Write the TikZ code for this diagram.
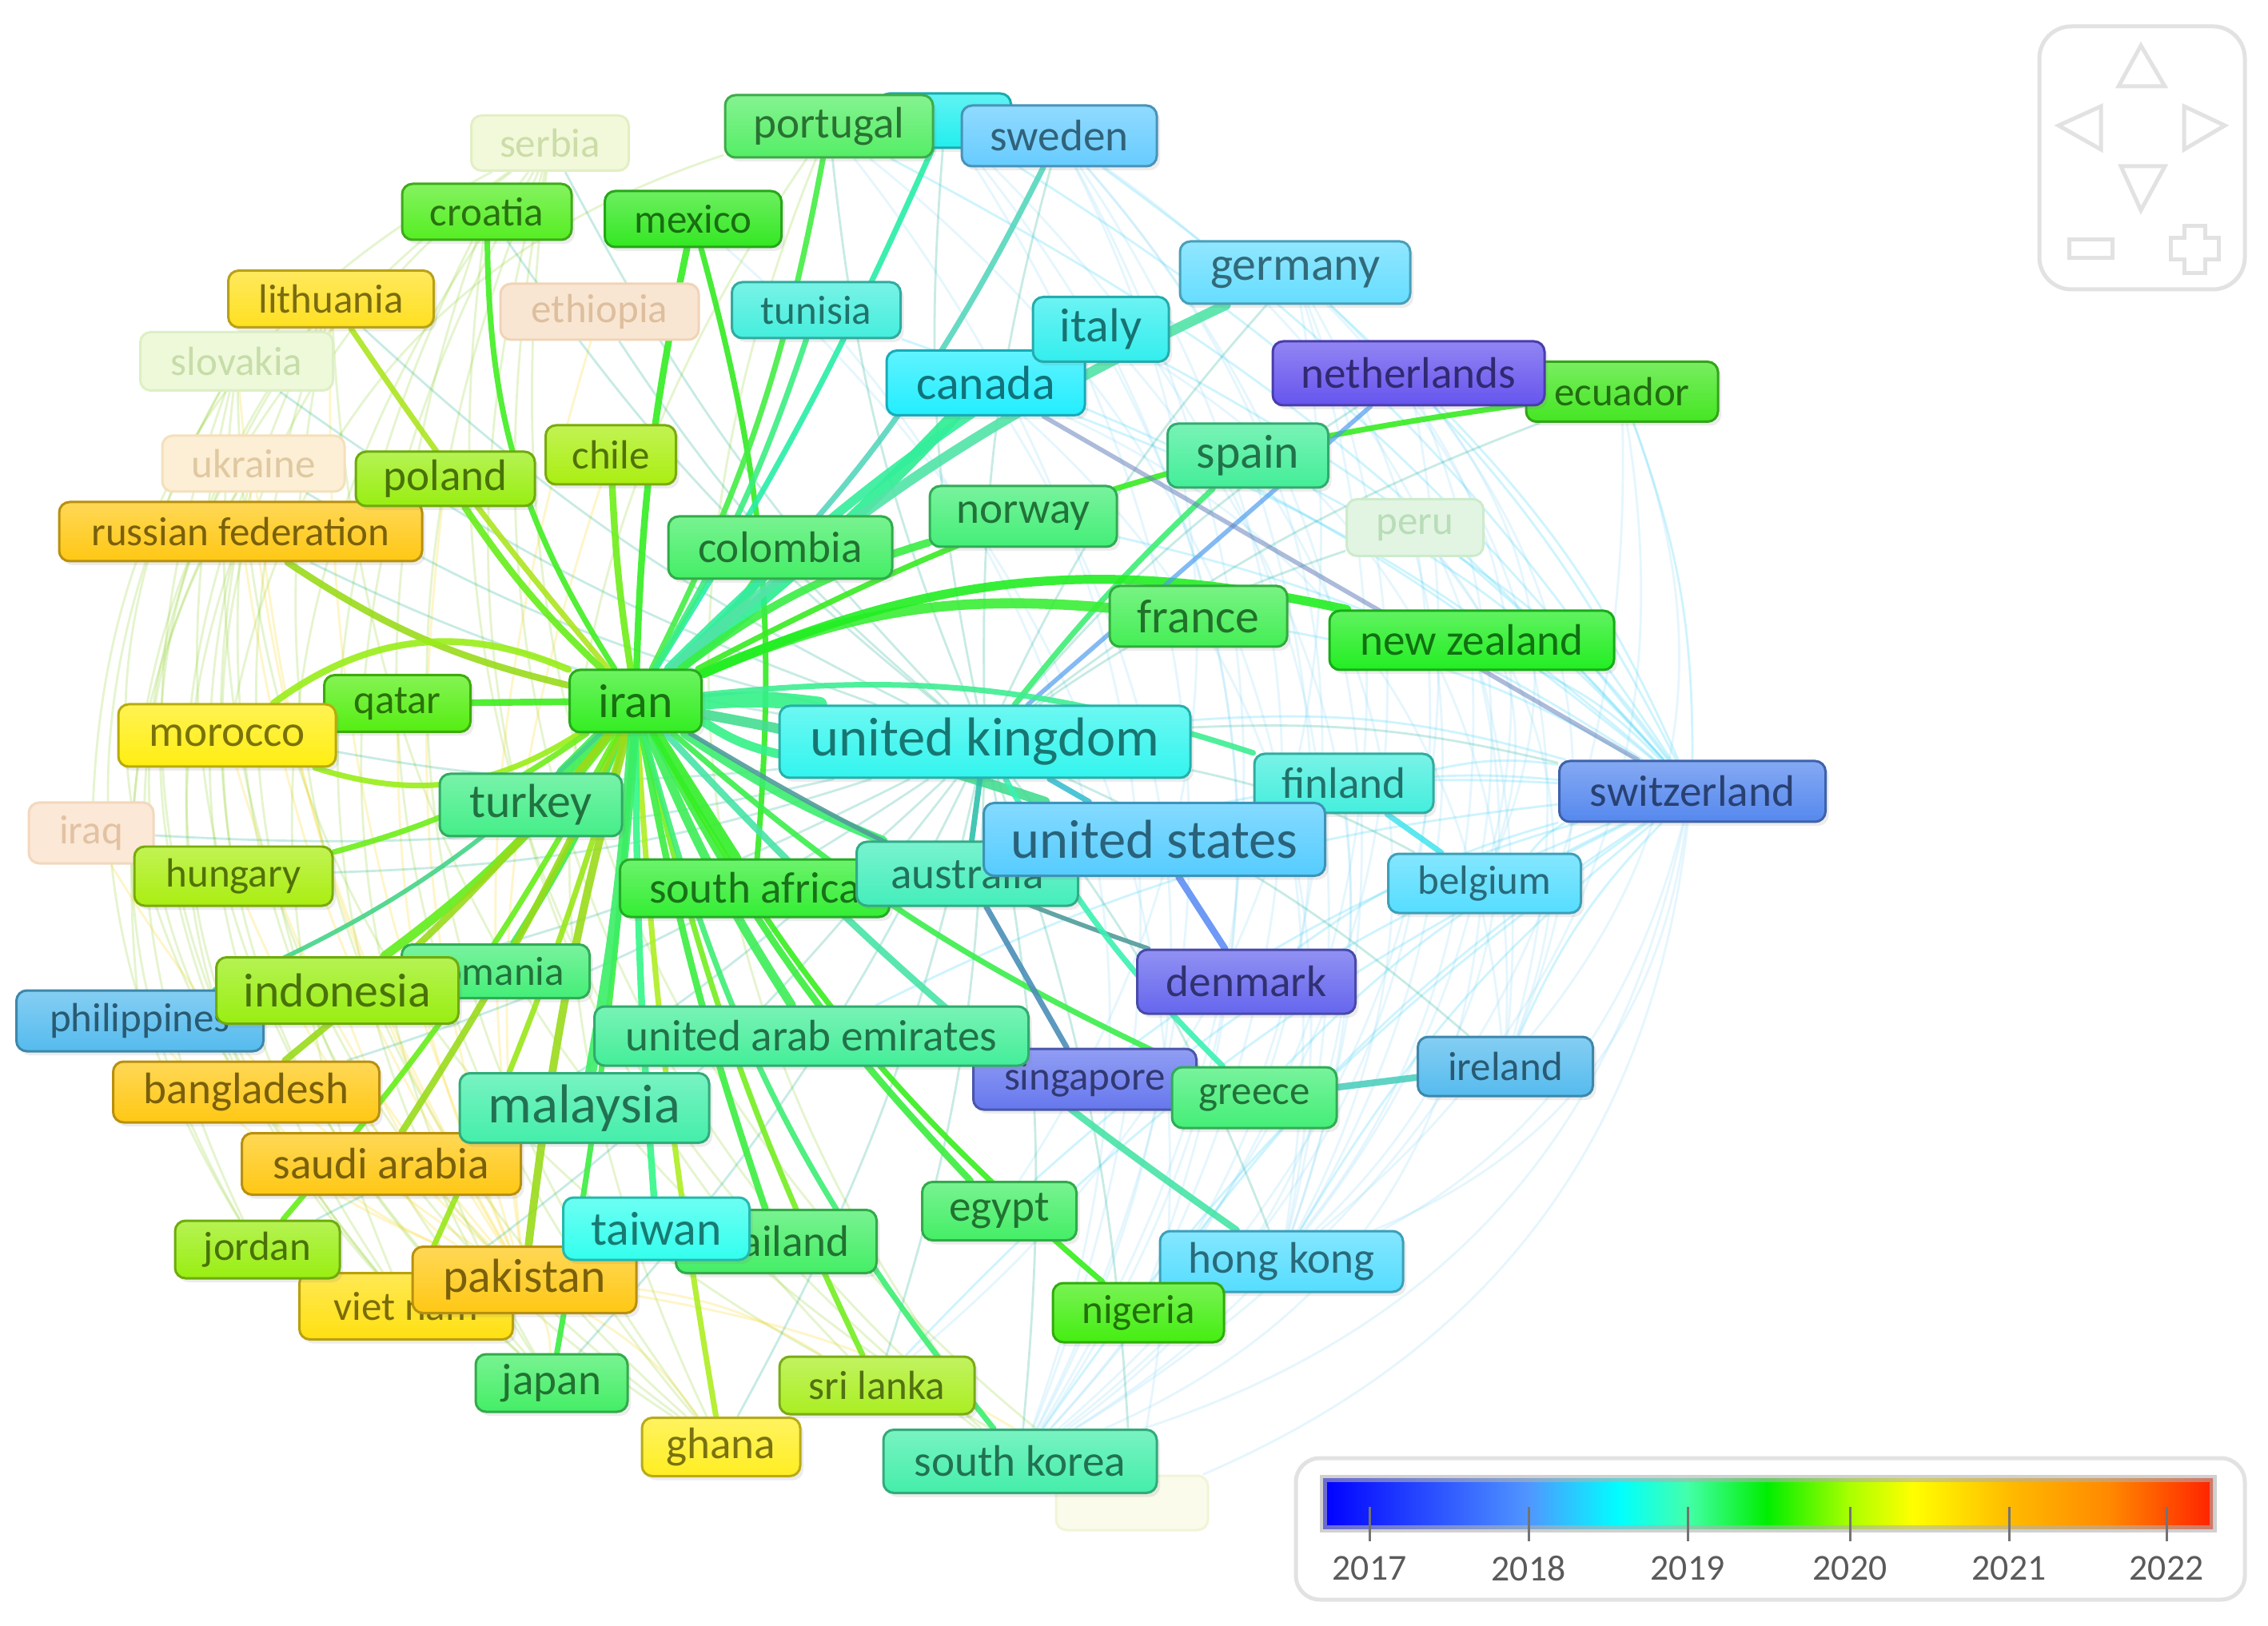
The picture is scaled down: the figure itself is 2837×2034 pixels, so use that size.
\documentclass[tikz,border=0pt]{standalone}
\usepackage{fontspec}
\setmainfont{Carlito}
\usetikzlibrary{shadows}
\pgfdeclarelayer{paper}
\pgfdeclarelayer{web}
\pgfdeclarelayer{links}
\pgfsetlayers{paper,web,links,main}

\definecolor{cIran}{HTML}{33EE22}
\definecolor{cPortugal}{HTML}{55EE66}
\definecolor{cHidden}{HTML}{22EEEE}
\definecolor{cSweden}{HTML}{66CCFF}
\definecolor{cCroatia}{HTML}{55EE22}
\definecolor{cMexico}{HTML}{33E822}
\definecolor{cLithuania}{HTML}{FFE020}
\definecolor{cTunisia}{HTML}{44EEDD}
\definecolor{cGermany}{HTML}{66DDFF}
\definecolor{cItaly}{HTML}{33EEEE}
\definecolor{cCanada}{HTML}{22EEFF}
\definecolor{cNether}{HTML}{6655EE}
\definecolor{cEcuador}{HTML}{44E622}
\definecolor{cPoland}{HTML}{99EE11}
\definecolor{cChile}{HTML}{AAEE11}
\definecolor{cSpain}{HTML}{44EE99}
\definecolor{cRussia}{HTML}{FFC814}
\definecolor{cNorway}{HTML}{44EE77}
\definecolor{cColombia}{HTML}{44EE66}
\definecolor{cFrance}{HTML}{44EE55}
\definecolor{cNZ}{HTML}{22EE22}
\definecolor{cQatar}{HTML}{55EE11}
\definecolor{cMorocco}{HTML}{FFEE11}
\definecolor{cUK}{HTML}{33F5EE}
\definecolor{cFinland}{HTML}{44EEDD}
\definecolor{cSwiss}{HTML}{5588EE}
\definecolor{cTurkey}{HTML}{44EE88}
\definecolor{cHungary}{HTML}{AAEE11}
\definecolor{cUS}{HTML}{55CCFF}
\definecolor{cSAfrica}{HTML}{33EE33}
\definecolor{cAustralia}{HTML}{44EEBB}
\definecolor{cBelgium}{HTML}{55DDFF}
\definecolor{cRomania}{HTML}{44EE77}
\definecolor{cIndonesia}{HTML}{99EE11}
\definecolor{cPhil}{HTML}{55BBEE}
\definecolor{cDenmark}{HTML}{6666EE}
\definecolor{cUAE}{HTML}{44EE99}
\definecolor{cSingapore}{HTML}{6677EE}
\definecolor{cGreece}{HTML}{44EE77}
\definecolor{cIreland}{HTML}{55BBEE}
\definecolor{cBangla}{HTML}{FFC814}
\definecolor{cMalaysia}{HTML}{44EEAA}
\definecolor{cSaudi}{HTML}{FFC814}
\definecolor{cTaiwan}{HTML}{33FFEE}
\definecolor{cThai}{HTML}{44EE66}
\definecolor{cEgypt}{HTML}{44EE66}
\definecolor{cHK}{HTML}{55DDFF}
\definecolor{cJordan}{HTML}{99EE11}
\definecolor{cPakistan}{HTML}{FFC814}
\definecolor{cViet}{HTML}{FFE011}
\definecolor{cNigeria}{HTML}{44EE11}
\definecolor{cJapan}{HTML}{44EE66}
\definecolor{cSriLanka}{HTML}{AAEE22}
\definecolor{cGhana}{HTML}{FFEE22}
\definecolor{cSKorea}{HTML}{44EEAA}
% faint nodes
\definecolor{fSerbiaF}{HTML}{F2F9DA}\definecolor{fSerbiaD}{HTML}{E2EFC4}\definecolor{fSerbiaT}{HTML}{CCDDA8}
\definecolor{fEthF}{HTML}{F9E6D2}\definecolor{fEthD}{HTML}{F0D4B8}\definecolor{fEthT}{HTML}{DDBF9E}
\definecolor{fSlovF}{HTML}{EEF9DA}\definecolor{fSlovD}{HTML}{DDEFC4}\definecolor{fSlovT}{HTML}{C6DDA8}
\definecolor{fUkrF}{HTML}{FCEFD6}\definecolor{fUkrD}{HTML}{F4E0BC}\definecolor{fUkrT}{HTML}{E0C8A0}
\definecolor{fIraqF}{HTML}{FBE8D6}\definecolor{fIraqD}{HTML}{F2D8BE}\definecolor{fIraqT}{HTML}{E2C2A2}
\definecolor{fPeruF}{HTML}{E2F5E2}\definecolor{fPeruD}{HTML}{CDEBCD}\definecolor{fPeruT}{HTML}{B8DDB8}
\definecolor{fLowF}{HTML}{FAFBEA}\definecolor{fLowD}{HTML}{F2F4D8}
\definecolor{navgrey}{HTML}{E2E2E2}
\definecolor{legtext}{HTML}{5A5A5A}

\tikzset{
  vnode/.style={rounded corners=1.3mm, draw=#1!72!black, line width=0.3mm,
    top color=#1!72!white, bottom color=#1, text=#1!48!black, inner sep=0pt,
    drop shadow={opacity=0.15, shadow xshift=0.4mm, shadow yshift=-0.5mm}},
  vfaint/.style n args={3}{rounded corners=1.3mm, fill=#1, draw=#2, line width=0.3mm, text=#3, inner sep=0pt},
  fs/.style={font=\fontsize{14.5}{16}\selectfont},
  fm/.style={font=\fontsize{15.7}{17}\selectfont},
  fl/.style={font=\fontsize{17}{19}\selectfont},
  fxl/.style={font=\fontsize{19.5}{21}\selectfont},
  link/.style={line width=#1*0.14mm, opacity=0.9, line cap=round},
  link/.default=5,
  webline/.style={line width=0.28mm, opacity=0.22},
  navline/.style={draw=navgrey, line width=0.5mm},
  legnum/.style={font=\fontsize{13}{15}\selectfont, text=legtext},
}
\newcommand\vn[8]{\node[vnode=#6,#7,minimum width=#4*0.1mm,minimum height=#5*0.1mm] (#1) at (#2,#3) {#8};}
\newcommand\vf[8]{\node[vfaint={#6F}{#6D}{#6T},#7,minimum width=#4*0.1mm,minimum height=#5*0.1mm] (#1) at (#2,#3) {#8};}

\begin{document}
\begin{tikzpicture}[x=0.1mm,y=-0.1mm]
\begin{pgfonlayer}{paper}
\fill[white] (0,0) rectangle (2837,2034);
\end{pgfonlayer}
\useasboundingbox (0,0) rectangle (2837,2034);

% faint nodes
\vf{serbia}{688}{179}{197}{69}{fSerbia}{fs}{serbia}
\vf{ethiopia}{750}{390}{248}{70}{fEth}{fs}{ethiopia}
\vf{slovakia}{296}{452}{241}{73}{fSlov}{fs}{slovakia}
\vf{ukraine}{317}{580}{228}{70}{fUkr}{fs}{ukraine}
\vf{iraq}{114}{1042}{156}{76}{fIraq}{fs}{iraq}
\vf{peru}{1770}{660}{171}{71}{fPeru}{fs}{peru}
\node[vfaint={fLowF}{fLowD}{fLowD},minimum width=19mm,minimum height=6.8mm] (lowfaint) at (1416,1880) {};

% main nodes
\vn{hidden}{1182}{151}{165}{68}{cHidden}{fs}{}
\vn{portugal}{1037}{158}{260}{78}{cPortugal}{fm}{portugal}
\vn{sweden}{1325}{170}{244}{76}{cSweden}{fm}{sweden}
\vn{croatia}{609}{265}{212}{70}{cCroatia}{fs}{croatia}
\vn{mexico}{867}{274}{221}{70}{cMexico}{fs}{mexico}
\vn{lithuania}{414}{374}{257}{71}{cLithuania}{fs}{lithuania}
\vn{tunisia}{1021}{388}{211}{70}{cTunisia}{fs}{tunisia}
\vn{germany}{1620}{341}{288}{78}{cGermany}{fl}{germany}
\vn{canada}{1233}{479}{248}{81}{cCanada}{fl}{canada}
\vn{italy}{1377}{412}{170}{81}{cItaly}{fl}{italy}
\vn{ecuador}{2029}{490}{240}{75}{cEcuador}{fs}{ecuador}
\vn{netherlands}{1762}{467}{340}{80}{cNether}{fm}{netherlands}
\vn{chile}{764}{569}{163}{74}{cChile}{fs}{chile}
\vn{spain}{1561}{570}{201}{80}{cSpain}{fl}{spain}
\vn{russia}{301}{665}{454}{74}{cRussia}{fs}{russian federation}
\vn{poland}{557}{599}{224}{68}{cPoland}{fm}{poland}
\vn{norway}{1280}{646}{234}{76}{cNorway}{fm}{norway}
\vn{colombia}{976}{685}{280}{78}{cColombia}{fm}{colombia}
\vn{france}{1499}{771}{222}{76}{cFrance}{fl}{france}
\vn{nz}{1841}{801}{356}{74}{cNZ}{fm}{new zealand}
\vn{qatar}{497}{880}{183}{71}{cQatar}{fs}{qatar}
\vn{morocco}{284}{920}{272}{78}{cMorocco}{fm}{morocco}
\vn{iran}{795}{877}{165}{78}{cIran}{fl}{iran}
\vn{uk}{1232}{928}{514}{90}{cUK}{fxl}{united kingdom}
\vn{finland}{1681}{980}{224}{74}{cFinland}{fm}{finland}
\vn{swiss}{2117}{990}{333}{76}{cSwiss}{fm}{switzerland}
\vn{turkey}{664}{1007}{228}{78}{cTurkey}{fl}{turkey}
\vn{hungary}{292}{1096}{248}{74}{cHungary}{fs}{hungary}
\vn{sa}{944}{1111}{337}{72}{cSAfrica}{fm}{south africa}
\vn{australia}{1210}{1093}{277}{80}{cAustralia}{fm}{australia}
\vn{us}{1444}{1050}{427}{91}{cUS}{fxl}{united states}
\vn{belgium}{1857}{1105}{241}{74}{cBelgium}{fs}{belgium}
\vn{romania}{620}{1215}{235}{67}{cRomania}{fs}{romania}
\vn{philippines}{175}{1277}{309}{76}{cPhil}{fs}{philippines}
\vn{indonesia}{422}{1239}{303}{83}{cIndonesia}{fl}{indonesia}
\vn{denmark}{1559}{1228}{273}{80}{cDenmark}{fm}{denmark}
\vn{singapore}{1357}{1350}{279}{76}{cSingapore}{fs}{singapore}
\vn{uae}{1015}{1296}{543}{74}{cUAE}{fm}{united arab emirates}
\vn{greece}{1569}{1373}{206}{76}{cGreece}{fs}{greece}
\vn{ireland}{1883}{1334}{219}{74}{cIreland}{fs}{ireland}
\vn{bangla}{308}{1366}{333}{76}{cBangla}{fm}{bangladesh}
\vn{saudi}{477}{1456}{349}{77}{cSaudi}{fm}{saudi arabia}
\vn{malaysia}{731}{1386}{312}{87}{cMalaysia}{fxl}{malaysia}
\vn{thai}{971}{1553}{251}{79}{cThai}{fm}{thailand}
\vn{viet}{508}{1634}{267}{83}{cViet}{fs}{viet nam}
\vn{pakistan}{656}{1601}{280}{83}{cPakistan}{fl}{pakistan}
\vn{taiwan}{821}{1537}{233}{78}{cTaiwan}{fl}{taiwan}
\vn{egypt}{1250}{1515}{193}{73}{cEgypt}{fm}{egypt}
\vn{hk}{1603}{1578}{304}{76}{cHK}{fm}{hong kong}
\vn{jordan}{322}{1563}{206}{72}{cJordan}{fs}{jordan}
\vn{nigeria}{1424}{1642}{214}{74}{cNigeria}{fs}{nigeria}
\vn{japan}{690}{1730}{190}{72}{cJapan}{fm}{japan}
\vn{srilanka}{1097}{1733}{244}{72}{cSriLanka}{fs}{sri lanka}
\vn{ghana}{902}{1810}{198}{73}{cGhana}{fm}{ghana}
\vn{sk}{1276}{1828}{342}{79}{cSKorea}{fm}{south korea}

% faint background web
\begin{pgfonlayer}{web}
\foreach \a/\b in {sweden/sk,sweden/hk,sweden/nigeria,sweden/ireland,sweden/egypt,sweden/greece,
  germany/sk,germany/hk,germany/ireland,germany/belgium,germany/nigeria,germany/srilanka,
  hidden/sk,hidden/hk,hidden/nigeria,netherlands/sk,netherlands/hk,netherlands/ireland,netherlands/belgium,
  ecuador/sk,ecuador/hk,ecuador/ireland,peru/sk,peru/belgium,peru/ireland,italy/sk,italy/hk,italy/ireland,
  canada/hk,canada/ireland,canada/sk,portugal/sk,portugal/hk,swiss/sk,swiss/hk,swiss/nigeria,swiss/lowfaint,
  spain/hk,spain/sk,nz/sk,nz/hk,finland/sk,belgium/sk,tunisia/sk,mexico/lowfaint}
  \draw[webline, cyan!45!white] (\a) to[bend left=30] (\b);
\foreach \b in {sweden,hidden,germany,italy,canada,netherlands,ecuador,spain,peru,norway,france,nz,finland,us,belgium,denmark,ireland,greece,singapore,hk,egypt,nigeria,sk,srilanka,uae,australia,uk,portugal,tunisia}
  \draw[webline, cSwiss!40!cyan] (swiss) to[bend right=10] (\b);
\foreach \a/\b in {ghana/serbia,ghana/croatia,ghana/lithuania,ghana/slovakia,ghana/russia,ghana/portugal,
  japan/serbia,japan/slovakia,japan/lithuania,japan/croatia,japan/ukraine,viet/slovakia,viet/lithuania,
  viet/ukraine,viet/serbia,viet/russia,jordan/slovakia,jordan/lithuania,jordan/ukraine,bangla/slovakia,
  bangla/ukraine,bangla/lithuania,sk/serbia,sk/croatia,sk/portugal,lowfaint/serbia,lowfaint/lithuania,
  srilanka/slovakia,srilanka/serbia,philippines/serbia,iraq/serbia,hungary/serbia,morocco/portugal}
  \draw[webline, yellow!55!green] (\a) to[bend left=30] (\b);
\foreach \b in {bangla,saudi,jordan,viet,japan,ghana,hungary,morocco,russia,lithuania,ukraine,slovakia,iraq,philippines,indonesia,qatar,poland,chile,ethiopia,srilanka,lowfaint}
  \draw[webline, yellow!70!orange] (pakistan) to[bend left=12] (\b);
\foreach \b in {serbia,croatia,portugal,hidden,sweden,germany,netherlands,ecuador,peru,swiss,belgium,ireland,hk,sk,lowfaint,srilanka,ghana,japan,viet,jordan,bangla,philippines,iraq,hungary,morocco,russia,ukraine,slovakia,lithuania,ethiopia}
  \draw[webline, cyan!35!green] (uk) to[bend left=8] (\b);
\end{pgfonlayer}

% links
\begin{pgfonlayer}{links}
\draw[link=5, cIran!55!cCroatia] (iran) to[bend left=16] (croatia);
\draw[link=6, cIran] (iran) to[bend left=5] (mexico);
\draw[link=5, cIran!50!cMexico] (mexico) to[bend left=10] (sa);
\draw[link=5, cIran!50!cPortugal] (iran) to[bend right=8] (portugal);
\draw[link=5, cIran!35!cHidden] (iran) to[bend right=4] (hidden);
\draw[link=5, cIran!40!cLithuania] (iran) to[bend left=3] (lithuania);
\draw[link=6, cIran!50!cPoland] (iran) to[bend left=6] (poland);
\draw[link=6, cIran!50!cChile] (iran) to[bend left=3] (chile);
\draw[link=6, cIran!50!cRussia] (iran) to[bend left=10] (russia);
\draw[link=9, cIran!60!cColombia] (iran) to[bend right=8] (colombia);
\draw[link=12, cIran!50!cCanada] (iran) to[bend right=4] (canada);
\draw[link=5, cIran!50!cTunisia] (iran) to[bend right=6] (tunisia);
\draw[link=5, cIran!30!cSweden] (iran) to[bend right=10] (sweden);
\draw[link=8, cIran!40!cItaly] (iran) to[bend left=6] (italy);
\draw[link=9, cIran!40!cGermany] (iran) to[bend left=8] (germany);
\draw[link=7, cIran!60!cNorway] (iran) to[bend left=10] (norway);
\draw[link=5, cIran!30!cSpain] (uk) to[bend left=4] (spain);
\draw[link=9, cIran!60!cFrance] (iran) to[bend left=14] (france);
\draw[link=8, cNZ] (iran) to[bend left=18] (nz);
\draw[link=5, cIran!70!cEcuador] (iran) to[bend left=10] (ecuador);
\draw[link=4, cNether!55!cUK, opacity=0.7] (netherlands) -- (uk);
\draw[link=4, cSwiss!55!gray, opacity=0.55] (swiss) -- (canada);
\draw[link=14, cIran!50!cUK] (iran) to[bend left=6] (uk);
\draw[link=8, cIran!50!cUK] (iran) to[bend right=10] (uk);
\draw[link=5, cIran!40!cFinland] (iran) to[bend left=12] (finland);
\draw[link=12, cIran!55!cTurkey] (iran) to (turkey);
\draw[link=6, cIran!70!cQatar] (iran) to (qatar);
\draw[link=6, cIran!50!cMorocco] (iran) to[bend right=30] (morocco);
\draw[link=5, cIran!50!cMorocco] (iran) to[bend left=25] (morocco);
\draw[link=5, cIran!50!cHungary] (iran) to[bend left=10] (hungary);
\draw[link=8, cIran!55!cIndonesia] (iran) to[bend left=8] (indonesia);
\draw[link=4, cIran!50!cPhil] (iran) to[bend left=10] (philippines);
\draw[link=6, cIran!55!cRomania] (iran) to[bend left=5] (romania);
\draw[link=6, cIran!50!cBangla] (iran) to[bend left=6] (bangla);
\draw[link=6, cIran!50!cSaudi] (iran) to[bend left=4] (saudi);
\draw[link=5, cIran!50!cJordan] (iran) to[bend left=6] (jordan);
\draw[link=5, cIran!50!cViet] (iran) to[bend left=4] (viet);
\draw[link=7, cIran!50!cPakistan] (iran) to[bend right=4] (pakistan);
\draw[link=5, cIran!55!cJapan] (iran) to[bend left=3] (japan);
\draw[link=5, cIran!40!cGhana] (iran) to[bend right=3] (ghana);
\draw[link=5, cIran!45!cSriLanka] (iran) to[bend right=6] (srilanka);
\draw[link=6, cIran!55!cThai] (iran) to[bend right=4] (thai);
\draw[link=6, cIran!50!cTaiwan] (iran) to[bend right=2] (taiwan);
\draw[link=10, cIran!50!cMalaysia] (iran) to[bend left=3] (malaysia);
\draw[link=6, cIran!60!cEgypt] (iran) to[bend right=8] (egypt);
\draw[link=5, cIran!70!cNigeria] (iran) to[bend right=10] (nigeria);
\draw[link=6, cIran!40!cHK] (iran) to[bend right=6] (hk);
\draw[link=5, cIran!40!cSKorea] (iran) to[bend right=12] (sk);
\draw[link=5, cIran!50!cGreece] (iran) to[bend right=8] (greece);
\draw[link=8, cIran!55!cUAE] (iran) to[bend right=5] (uae);
\draw[link=10, cIran!60!cSAfrica] (iran) to (sa);
\draw[link=8, cIran!50!cAustralia] (iran) to[bend right=6] (australia);
\draw[link=9, cIran!50!cUS] (iran) to[bend left=4] (us);
\draw[link=4, cIran!40!cDenmark] (iran) to[bend right=6] (denmark);
\draw[link=5, cUK!55!cAustralia!80!black] (uk) -- (australia);
\draw[link=5, cUK!50!cUS!85!black] (uk) -- (us);
\draw[link=6, cUS!40!cDenmark] (us) -- (denmark);
\draw[link=5, cAustralia!40!cSingapore!85!black] (australia) -- (singapore);
\draw[link=5, cUK!50!cGreece] (uk) to[bend right=8] (greece);
\draw[link=6, cGreece!40!cIreland] (greece) -- (ireland);
\draw[link=5, cFinland!50!cBelgium] (finland) -- (belgium);
\end{pgfonlayer}

% legend
\draw[navgrey, line width=0.5mm, rounded corners=3mm] (1621,1824) rectangle (2808,2001);
\shade[left color={rgb,255:red,0;green,0;blue,255}, right color={rgb,255:red,80;green,150;blue,255}] (1655,1849) rectangle (1912,1912);
\shade[left color={rgb,255:red,80;green,150;blue,255}, right color={rgb,255:red,0;green,255;blue,255}] (1911,1849) rectangle (2026,1912);
\shade[left color={rgb,255:red,0;green,255;blue,255}, right color={rgb,255:red,68;green,255;blue,170}] (2025,1849) rectangle (2111,1912);
\shade[left color={rgb,255:red,68;green,255;blue,170}, right color={rgb,255:red,0;green,238;blue,0}] (2110,1849) rectangle (2211,1912);
\shade[left color={rgb,255:red,0;green,238;blue,0}, right color={rgb,255:red,170;green,255;blue,0}] (2210,1849) rectangle (2314,1912);
\shade[left color={rgb,255:red,170;green,255;blue,0}, right color={rgb,255:red,255;green,255;blue,0}] (2313,1849) rectangle (2393,1912);
\shade[left color={rgb,255:red,255;green,255;blue,0}, right color={rgb,255:red,255;green,187;blue,0}] (2392,1849) rectangle (2513,1912);
\shade[left color={rgb,255:red,255;green,187;blue,0}, right color={rgb,255:red,255;green,136;blue,0}] (2512,1849) rectangle (2640,1912);
\shade[left color={rgb,255:red,255;green,136;blue,0}, right color={rgb,255:red,255;green,34;blue,0}] (2639,1849) rectangle (2768,1912);
\draw[black!30, line width=0.9mm, opacity=0.6] (1655,1849) rectangle (2768,1912);
\foreach \x/\y in {1713/2017,1912/2018,2111/2019,2314/2020,2513/2021,2710/2022}{
  \draw[black!55, line width=0.3mm] (\x,1885) -- (\x,1928);
  \node[legnum] (yr\y) at (\x,1962) {\y};
}

% navigation widget
\draw[navline, rounded corners=4mm] (2551,33) rectangle (2808,362);
\draw[navline] (2678,57) -- (2708,108) -- (2650,108) -- cycle;
\draw[navline] (2575,157) -- (2628,133) -- (2628,187) -- cycle;
\draw[navline] (2783,157) -- (2732,133) -- (2732,187) -- cycle;
\draw[navline] (2653,208) -- (2708,208) -- (2678,263) -- cycle;
\draw[navline] (2588,300) rectangle (2642,323);
\draw[navline] (2732,283) -- (2758,283) -- (2758,298) -- (2775,298) -- (2775,325) -- (2758,325) -- (2758,342) -- (2732,342) -- (2732,325) -- (2715,325) -- (2715,298) -- (2732,298) -- cycle;
\end{tikzpicture}
\end{document}
